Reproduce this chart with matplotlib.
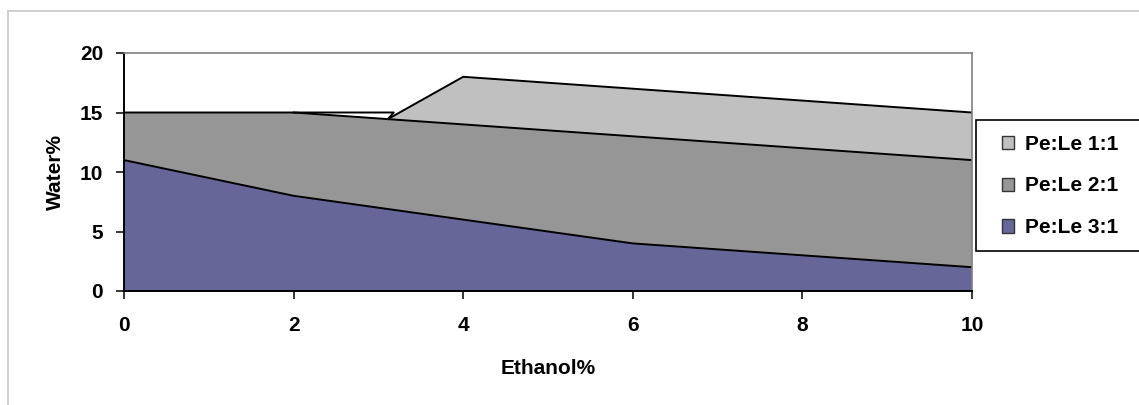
import numpy as np
import matplotlib.pyplot as plt
from matplotlib.patches import Rectangle, Patch

plt.rcParams['font.family'] = ['Liberation Sans', 'DejaVu Sans']
plt.rcParams['font.weight'] = 'bold'

ethanol = [0, 2, 4, 6, 8, 10]
pe_le_11 = [10, 10, 18, 17, 16, 15]
pe_le_21 = [15, 15, 14, 13, 12, 11]
pe_le_31 = [11, 8, 6, 4, 3, 2]

labels = ['Pe:Le 1:1', 'Pe:Le 2:1', 'Pe:Le 3:1']
colors = ['#C0C0C0', '#969696', '#666699']

W, H = 1139, 405
fig = plt.figure(figsize=(W / 100, H / 100), dpi=100)

# outer chart border
fig.patches.append(Rectangle((8 / W, -0.1), 1.2, 1 - 11 / H + 0.1,
                             transform=fig.transFigure, fill=False,
                             edgecolor='#C8C8C8', linewidth=1.2))

ax = fig.add_axes([124 / W, (H - 291) / H, (972 - 124) / W, (291 - 53) / H])

# areas overlap (not stacked), back to front
z = 2
for ys, c in zip([pe_le_11, pe_le_21, pe_le_31], colors):
    ax.fill_between(ethanol, ys, 0, facecolor=c, edgecolor='none', zorder=z)
    ax.plot(ethanol, ys, color='black', linewidth=1.4, zorder=z + 0.5)
    z += 1

# flat top edge where the 1:1 area dips under the 2:1 area
x0, x1 = ethanol[1], ethanol[2]
s11 = (pe_le_11[2] - pe_le_11[1]) / (x1 - x0)
s21 = (pe_le_21[2] - pe_le_21[1]) / (x1 - x0)
xc = x0 + (pe_le_21[1] - pe_le_11[1]) / (s11 - s21)
yc = pe_le_21[1] + s21 * (xc - x0)
ax.plot([x0, xc + 0.07, xc], [pe_le_21[1], pe_le_21[1], yc],
        color='black', linewidth=1.4, zorder=z)

ax.set_xlim(0, 10)
ax.set_ylim(0, 20)
ax.set_xticks(ethanol)
ax.set_yticks([0, 5, 10, 15, 20])
ax.tick_params(direction='out', length=6, width=1.1, labelsize=15, pad=9)
ax.tick_params(axis='x', pad=12)
for lab in ax.get_xticklabels() + ax.get_yticklabels():
    lab.set_fontweight('bold')

ax.spines['left'].set_linewidth(1.4)
ax.spines['bottom'].set_linewidth(1.4)
ax.spines['top'].set_color('#808080')
ax.spines['right'].set_color('#808080')
ax.spines['top'].set_linewidth(1.2)
ax.spines['right'].set_linewidth(1.2)
for sp in ax.spines.values():
    sp.set_zorder(10)

fig.text(55 / W, 1 - 172 / H, 'Water%', rotation=90, ha='center', va='center',
         fontsize=15, fontweight='bold')
fig.text(548 / W, 1 - 369 / H, 'Ethanol%', ha='center', va='center',
         fontsize=15, fontweight='bold')

# legend box
fig.patches.append(Rectangle((976 / W, 1 - 251 / H), 0.3, (251 - 120) / H,
                             transform=fig.transFigure, facecolor='white',
                             edgecolor='black', linewidth=1.2, zorder=5))
handles = [Patch(facecolor=c, edgecolor='#333333', linewidth=1) for c in colors]
fig.legend(handles, labels, loc='center left',
           bbox_to_anchor=(983 / W, 1 - 186 / H), frameon=False,
           prop={'size': 15, 'weight': 'bold'}, handlelength=0.6,
           handleheight=0.6, handletextpad=0.5, labelspacing=1.1)

fig.savefig('out.png', dpi=100)
